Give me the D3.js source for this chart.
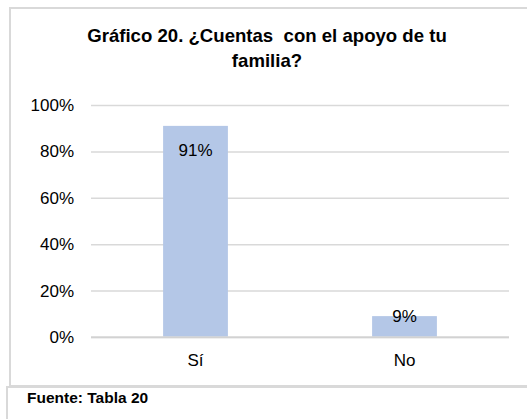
<!DOCTYPE html>
<html>
<head>
<meta charset="utf-8">
<script src="https://cdn.jsdelivr.net/npm/d3@7"></script>
<style>
  body { margin: 0; background: #fff; }
  svg { display: block; font-family: "Liberation Sans", Arial, sans-serif; }
</style>
</head>
<body>
<div id="main"></div>
<script>
const categories = ['Sí', 'No'];
const values = [0.91, 0.09];
const valueLabels = ['91%', '9%'];
const tickValues = [0, 0.2, 0.4, 0.6, 0.8, 1.0];
const titleLines = ['Gráfico 20. ¿Cuentas  con el apoyo de tu', 'familia?'];
const sourceText = 'Fuente: Tabla 20';

const W = 527, H = 419;
const plot = { left: 91, right: 509, top: 105, bottom: 337 };

const svg = d3.select('#main').append('svg')
  .attr('width', W)
  .attr('height', H);

// chart frame (no right edge visible, runs off the picture)
svg.append('path')
  .attr('d', 'M' + W + ',8 H10 V386 H' + W)
  .attr('fill', 'none')
  .attr('stroke', '#d9d9d9')
  .attr('stroke-width', 2);

// source box below
svg.append('path')
  .attr('d', 'M' + W + ',387 H7 V' + H)
  .attr('fill', 'none')
  .attr('stroke', '#d9d9d9')
  .attr('stroke-width', 2);

// title
svg.append('text')
  .attr('x', 267)
  .attr('y', 41.5)
  .attr('text-anchor', 'middle')
  .attr('font-weight', 'bold')
  .attr('font-size', 18.6)
  .attr('fill', '#000')
  .style('white-space', 'pre')
  .selectAll('tspan')
  .data(titleLines)
  .enter().append('tspan')
    .attr('x', 267)
    .attr('dy', (d, i) => i === 0 ? 0 : 25)
    .text(d => d);

const x = d3.scaleBand()
  .domain(categories)
  .range([plot.left, plot.right])
  .paddingInner(0.69)
  .paddingOuter(0.345);

const y = d3.scaleLinear()
  .domain([0, 1])
  .range([plot.bottom, plot.top]);

// gridlines
const yAxis = d3.axisLeft(y)
  .tickValues(tickValues)
  .tickFormat(d3.format('.0%'))
  .tickSize(-(plot.right - plot.left))
  .tickPadding(17);

const gy = svg.append('g')
  .attr('transform', 'translate(' + plot.left + ',0)')
  .call(yAxis);
gy.select('.domain').remove();
gy.selectAll('.tick line')
  .attr('stroke', (d) => d === 0 ? '#bfbfbf' : '#d9d9d9')
  .attr('stroke-width', 1.5);
gy.selectAll('.tick text')
  .attr('font-size', 17)
  .attr('font-family', '"Liberation Sans", Arial, sans-serif')
  .attr('fill', '#000');

// bars
svg.selectAll('.bar')
  .data(values)
  .enter().append('rect')
    .attr('class', 'bar')
    .attr('x', (d, i) => x(categories[i]))
    .attr('width', x.bandwidth())
    .attr('y', d => y(d))
    .attr('height', d => plot.bottom - y(d))
    .attr('fill', '#b4c7e7');

// redraw baseline on top of bars
svg.append('line')
  .attr('x1', plot.left).attr('x2', plot.right)
  .attr('y1', y(0)).attr('y2', y(0))
  .attr('stroke', '#d9d9d9')
  .attr('stroke-width', 1.5);

// value labels
svg.selectAll('.val')
  .data(values)
  .enter().append('text')
    .attr('class', 'val')
    .attr('x', (d, i) => x(categories[i]) + x.bandwidth() / 2)
    .attr('y', d => (plot.bottom - y(d)) > 40 ? y(d) + 30.5 : y(d) + 5.5)
    .attr('text-anchor', 'middle')
    .attr('font-size', 17)
    .attr('fill', '#000')
    .text((d, i) => valueLabels[i]);

// category labels
svg.selectAll('.cat')
  .data(categories)
  .enter().append('text')
    .attr('class', 'cat')
    .attr('x', d => x(d) + x.bandwidth() / 2)
    .attr('y', 366)
    .attr('text-anchor', 'middle')
    .attr('font-size', 17)
    .attr('fill', '#000')
    .text(d => d);

// source
svg.append('text')
  .attr('x', 27)
  .attr('y', 403)
  .attr('font-weight', 'bold')
  .attr('font-size', 15.5)
  .attr('fill', '#000')
  .text(sourceText);
</script>
</body>
</html>
